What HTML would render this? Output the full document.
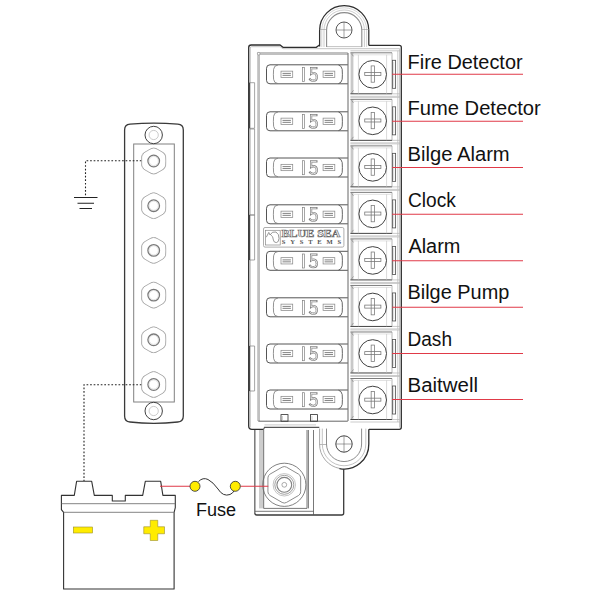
<!DOCTYPE html>
<html><head><meta charset="utf-8"><style>
html,body{margin:0;padding:0;background:#fff;width:600px;height:600px;overflow:hidden;font-family:"Liberation Sans",sans-serif;}
svg{display:block;}
</style></head><body>
<svg width="600" height="600" viewBox="0 0 600 600"><path d="M319.6 46.5 V30.2 A24.6 24.6 0 0 1 368.8 30.2 V45.5" fill="none" stroke="#2e2e2e" stroke-width="1.25" /><path d="M321.8 47 V30.2 A22.4 22.4 0 0 1 366.6 30.2 V47" fill="none" stroke="#c4c4c4" stroke-width="0.7" /><path d="M324 47 V30.2 A20.2 20.2 0 0 1 364.4 30.2 V47" fill="none" stroke="#b8b8b8" stroke-width="0.7" /><path d="M326.6 47 V30.2 A17.6 17.6 0 0 1 361.8 30.2 V47" fill="none" stroke="#8a8a8a" stroke-width="1.1" /><path d="M319.6 29.5 H326.6 M361.8 29.5 H368.8 M326.6 46.6 H361.8" fill="none" stroke="#999" stroke-width="0.6" /><circle cx="344" cy="30" r="8" fill="none" stroke="#3a3a3a" stroke-width="0.85"/><path d="M344 22 V38 M336 30 H352" fill="none" stroke="#555" stroke-width="0.55" /><path d="M248.7 426 V47.5 Q248.7 45 251.2 45 H280 L283 47.3 H316.3 L319.8 44.8 M368.9 45.3 H399.3 Q401.3 45.3 401.3 47.3 V427.3 Q401.3 429.3 399.3 429.3 H368.9 M263.7 429.3 H252 Q248.7 429.3 248.7 426" fill="none" stroke="#2e2e2e" stroke-width="1.3" /><path d="M263.7 429.3 L264.5 427.4 H319.3" fill="none" stroke="#555555" stroke-width="1.1" /><path d="M264.5 424.9 H316" fill="none" stroke="#b4b4b4" stroke-width="0.7" /><path d="M250.3 427.5 V48 Q250.3 46.7 251.6 46.7 H280 L283 48.7 H399.6 V427.5" fill="none" stroke="#b4b4b4" stroke-width="0.8" /><path d="M258.6 421 V53.5 H347.8" fill="none" stroke="#c0c0c0" stroke-width="2.8" /><circle cx="258.7" cy="53.7" r="1.3" fill="#fff" stroke="#808080" stroke-width="0.6"/><path d="M258.3 421.2 H347.8" fill="none" stroke="#555555" stroke-width="0.9" /><path d="M348 53 V421" fill="none" stroke="#555555" stroke-width="0.9" /><path d="M249.5 82.7 H254.6 V128.3 H249.5" fill="none" stroke="#808080" stroke-width="0.7" /><rect x="248.6" y="82.7" width="1.4" height="45.6" fill="#444"/><path d="M249.5 129 H254.6 V215 H249.5" fill="none" stroke="#808080" stroke-width="0.7" /><path d="M249.5 215 H254.6 V260 H249.5" fill="none" stroke="#808080" stroke-width="0.7" /><rect x="248.6" y="215" width="1.4" height="45.0" fill="#444"/><path d="M249.5 346 H254.6 V391 H249.5" fill="none" stroke="#808080" stroke-width="0.7" /><rect x="248.6" y="346" width="1.4" height="45.0" fill="#444"/><rect x="281" y="414.6" width="7" height="6.6" fill="none" stroke="#2e2e2e" stroke-width="0.8"/><path d="M282.5 416 V421" fill="none" stroke="#b4b4b4" stroke-width="0.6" /><rect x="310.5" y="414.6" width="7" height="6.6" fill="none" stroke="#2e2e2e" stroke-width="0.8"/><path d="M312.0 416 V421" fill="none" stroke="#b4b4b4" stroke-width="0.6" /><path d="M347.8 64.8 H270 Q266.5 64.8 266.5 68.3 V80.3 Q266.5 83.8 270 83.8 H347.8" fill="none" stroke="#555555" stroke-width="1"/><path d="M278 65.0 Q274 65.3 273.6 69.3 Q273.2 74.3 273.6 79.3 Q274 83.3 278 83.6" fill="none" stroke="#808080" stroke-width="0.85"/><path d="M338.5 65.0 Q341.5 65.6 342.2 69.3 Q342.6 74.3 342.2 79.3 Q341.5 83.0 338.5 83.6" fill="none" stroke="#555555" stroke-width="0.9"/><rect x="281.0" y="71.15" width="11.7" height="6.3" fill="none" stroke="#8a8a8a" stroke-width="0.75"/><path d="M282.5 73.40 H290.90000000000003 M282.5 75.35 H290.90000000000003" stroke="#5a5a5a" stroke-width="0.75"/><rect x="323.09999999999997" y="71.15" width="11.7" height="6.3" fill="none" stroke="#8a8a8a" stroke-width="0.75"/><path d="M324.59999999999997 73.40 H333.0 M324.59999999999997 75.35 H333.0" stroke="#5a5a5a" stroke-width="0.75"/><rect x="302.4" y="67.5" width="2.2" height="14" fill="none" stroke="#808080" stroke-width="0.7"/><path d="M316.4 68.2 H311.1 V73.89999999999999 Q312.5 73.0 313.8 73.0 Q316.8 73.2 316.8 76.89999999999999 Q316.8 80.7 313.5 80.7 Q311.3 80.7 310.1 79.39999999999999" fill="none" stroke="#808080" stroke-width="2.2" stroke-linecap="square"/><path d="M316.4 68.2 H311.1 V73.89999999999999 Q312.5 73.0 313.8 73.0 Q316.8 73.2 316.8 76.89999999999999 Q316.8 80.7 313.5 80.7 Q311.3 80.7 310.1 79.39999999999999" fill="none" stroke="#fff" stroke-width="0.8"/><path d="M347.8 111.8 H270 Q266.5 111.8 266.5 115.3 V127.30000000000001 Q266.5 130.8 270 130.8 H347.8" fill="none" stroke="#555555" stroke-width="1"/><path d="M278 112.0 Q274 112.3 273.6 116.3 Q273.2 121.3 273.6 126.30000000000001 Q274 130.3 278 130.60000000000002" fill="none" stroke="#808080" stroke-width="0.85"/><path d="M338.5 112.0 Q341.5 112.6 342.2 116.3 Q342.6 121.3 342.2 126.30000000000001 Q341.5 130.0 338.5 130.60000000000002" fill="none" stroke="#555555" stroke-width="0.9"/><rect x="281.0" y="118.15" width="11.7" height="6.3" fill="none" stroke="#8a8a8a" stroke-width="0.75"/><path d="M282.5 120.40 H290.90000000000003 M282.5 122.35 H290.90000000000003" stroke="#5a5a5a" stroke-width="0.75"/><rect x="323.09999999999997" y="118.15" width="11.7" height="6.3" fill="none" stroke="#8a8a8a" stroke-width="0.75"/><path d="M324.59999999999997 120.40 H333.0 M324.59999999999997 122.35 H333.0" stroke="#5a5a5a" stroke-width="0.75"/><rect x="302.4" y="114.5" width="2.2" height="14" fill="none" stroke="#808080" stroke-width="0.7"/><path d="M316.4 115.2 H311.1 V120.89999999999999 Q312.5 120.0 313.8 120.0 Q316.8 120.2 316.8 123.89999999999999 Q316.8 127.7 313.5 127.7 Q311.3 127.7 310.1 126.39999999999999" fill="none" stroke="#808080" stroke-width="2.2" stroke-linecap="square"/><path d="M316.4 115.2 H311.1 V120.89999999999999 Q312.5 120.0 313.8 120.0 Q316.8 120.2 316.8 123.89999999999999 Q316.8 127.7 313.5 127.7 Q311.3 127.7 310.1 126.39999999999999" fill="none" stroke="#fff" stroke-width="0.8"/><path d="M347.8 158.0 H270 Q266.5 158.0 266.5 161.5 V173.5 Q266.5 177.0 270 177.0 H347.8" fill="none" stroke="#555555" stroke-width="1"/><path d="M278 158.2 Q274 158.5 273.6 162.5 Q273.2 167.5 273.6 172.5 Q274 176.5 278 176.8" fill="none" stroke="#808080" stroke-width="0.85"/><path d="M338.5 158.2 Q341.5 158.8 342.2 162.5 Q342.6 167.5 342.2 172.5 Q341.5 176.2 338.5 176.8" fill="none" stroke="#555555" stroke-width="0.9"/><rect x="281.0" y="164.35" width="11.7" height="6.3" fill="none" stroke="#8a8a8a" stroke-width="0.75"/><path d="M282.5 166.60 H290.90000000000003 M282.5 168.55 H290.90000000000003" stroke="#5a5a5a" stroke-width="0.75"/><rect x="323.09999999999997" y="164.35" width="11.7" height="6.3" fill="none" stroke="#8a8a8a" stroke-width="0.75"/><path d="M324.59999999999997 166.60 H333.0 M324.59999999999997 168.55 H333.0" stroke="#5a5a5a" stroke-width="0.75"/><rect x="302.4" y="160.7" width="2.2" height="14" fill="none" stroke="#808080" stroke-width="0.7"/><path d="M316.4 161.4 H311.1 V167.1 Q312.5 166.2 313.8 166.2 Q316.8 166.4 316.8 170.1 Q316.8 173.9 313.5 173.9 Q311.3 173.9 310.1 172.6" fill="none" stroke="#808080" stroke-width="2.2" stroke-linecap="square"/><path d="M316.4 161.4 H311.1 V167.1 Q312.5 166.2 313.8 166.2 Q316.8 166.4 316.8 170.1 Q316.8 173.9 313.5 173.9 Q311.3 173.9 310.1 172.6" fill="none" stroke="#fff" stroke-width="0.8"/><path d="M347.8 204.8 H270 Q266.5 204.8 266.5 208.3 V220.3 Q266.5 223.8 270 223.8 H347.8" fill="none" stroke="#555555" stroke-width="1"/><path d="M278 205.0 Q274 205.3 273.6 209.3 Q273.2 214.3 273.6 219.3 Q274 223.3 278 223.60000000000002" fill="none" stroke="#808080" stroke-width="0.85"/><path d="M338.5 205.0 Q341.5 205.60000000000002 342.2 209.3 Q342.6 214.3 342.2 219.3 Q341.5 223.0 338.5 223.60000000000002" fill="none" stroke="#555555" stroke-width="0.9"/><rect x="281.0" y="211.15" width="11.7" height="6.3" fill="none" stroke="#8a8a8a" stroke-width="0.75"/><path d="M282.5 213.40 H290.90000000000003 M282.5 215.35 H290.90000000000003" stroke="#5a5a5a" stroke-width="0.75"/><rect x="323.09999999999997" y="211.15" width="11.7" height="6.3" fill="none" stroke="#8a8a8a" stroke-width="0.75"/><path d="M324.59999999999997 213.40 H333.0 M324.59999999999997 215.35 H333.0" stroke="#5a5a5a" stroke-width="0.75"/><rect x="302.4" y="207.5" width="2.2" height="14" fill="none" stroke="#808080" stroke-width="0.7"/><path d="M316.4 208.20000000000002 H311.1 V213.9 Q312.5 213.0 313.8 213.0 Q316.8 213.20000000000002 316.8 216.9 Q316.8 220.70000000000002 313.5 220.70000000000002 Q311.3 220.70000000000002 310.1 219.4" fill="none" stroke="#808080" stroke-width="2.2" stroke-linecap="square"/><path d="M316.4 208.20000000000002 H311.1 V213.9 Q312.5 213.0 313.8 213.0 Q316.8 213.20000000000002 316.8 216.9 Q316.8 220.70000000000002 313.5 220.70000000000002 Q311.3 220.70000000000002 310.1 219.4" fill="none" stroke="#fff" stroke-width="0.8"/><path d="M347.8 251.3 H270 Q266.5 251.3 266.5 254.8 V266.8 Q266.5 270.3 270 270.3 H347.8" fill="none" stroke="#555555" stroke-width="1"/><path d="M278 251.5 Q274 251.8 273.6 255.8 Q273.2 260.8 273.6 265.8 Q274 269.8 278 270.1" fill="none" stroke="#808080" stroke-width="0.85"/><path d="M338.5 251.5 Q341.5 252.10000000000002 342.2 255.8 Q342.6 260.8 342.2 265.8 Q341.5 269.5 338.5 270.1" fill="none" stroke="#555555" stroke-width="0.9"/><rect x="281.0" y="257.65" width="11.7" height="6.3" fill="none" stroke="#8a8a8a" stroke-width="0.75"/><path d="M282.5 259.90 H290.90000000000003 M282.5 261.85 H290.90000000000003" stroke="#5a5a5a" stroke-width="0.75"/><rect x="323.09999999999997" y="257.65" width="11.7" height="6.3" fill="none" stroke="#8a8a8a" stroke-width="0.75"/><path d="M324.59999999999997 259.90 H333.0 M324.59999999999997 261.85 H333.0" stroke="#5a5a5a" stroke-width="0.75"/><rect x="302.4" y="254.0" width="2.2" height="14" fill="none" stroke="#808080" stroke-width="0.7"/><path d="M316.4 254.70000000000002 H311.1 V260.40000000000003 Q312.5 259.5 313.8 259.5 Q316.8 259.7 316.8 263.40000000000003 Q316.8 267.2 313.5 267.2 Q311.3 267.2 310.1 265.90000000000003" fill="none" stroke="#808080" stroke-width="2.2" stroke-linecap="square"/><path d="M316.4 254.70000000000002 H311.1 V260.40000000000003 Q312.5 259.5 313.8 259.5 Q316.8 259.7 316.8 263.40000000000003 Q316.8 267.2 313.5 267.2 Q311.3 267.2 310.1 265.90000000000003" fill="none" stroke="#fff" stroke-width="0.8"/><path d="M347.8 297.8 H270 Q266.5 297.8 266.5 301.3 V313.3 Q266.5 316.8 270 316.8 H347.8" fill="none" stroke="#555555" stroke-width="1"/><path d="M278 298.0 Q274 298.3 273.6 302.3 Q273.2 307.3 273.6 312.3 Q274 316.3 278 316.6" fill="none" stroke="#808080" stroke-width="0.85"/><path d="M338.5 298.0 Q341.5 298.6 342.2 302.3 Q342.6 307.3 342.2 312.3 Q341.5 316.0 338.5 316.6" fill="none" stroke="#555555" stroke-width="0.9"/><rect x="281.0" y="304.15" width="11.7" height="6.3" fill="none" stroke="#8a8a8a" stroke-width="0.75"/><path d="M282.5 306.40 H290.90000000000003 M282.5 308.35 H290.90000000000003" stroke="#5a5a5a" stroke-width="0.75"/><rect x="323.09999999999997" y="304.15" width="11.7" height="6.3" fill="none" stroke="#8a8a8a" stroke-width="0.75"/><path d="M324.59999999999997 306.40 H333.0 M324.59999999999997 308.35 H333.0" stroke="#5a5a5a" stroke-width="0.75"/><rect x="302.4" y="300.5" width="2.2" height="14" fill="none" stroke="#808080" stroke-width="0.7"/><path d="M316.4 301.2 H311.1 V306.90000000000003 Q312.5 306.0 313.8 306.0 Q316.8 306.2 316.8 309.90000000000003 Q316.8 313.7 313.5 313.7 Q311.3 313.7 310.1 312.40000000000003" fill="none" stroke="#808080" stroke-width="2.2" stroke-linecap="square"/><path d="M316.4 301.2 H311.1 V306.90000000000003 Q312.5 306.0 313.8 306.0 Q316.8 306.2 316.8 309.90000000000003 Q316.8 313.7 313.5 313.7 Q311.3 313.7 310.1 312.40000000000003" fill="none" stroke="#fff" stroke-width="0.8"/><path d="M347.8 344.0 H270 Q266.5 344.0 266.5 347.5 V359.5 Q266.5 363.0 270 363.0 H347.8" fill="none" stroke="#555555" stroke-width="1"/><path d="M278 344.2 Q274 344.5 273.6 348.5 Q273.2 353.5 273.6 358.5 Q274 362.5 278 362.8" fill="none" stroke="#808080" stroke-width="0.85"/><path d="M338.5 344.2 Q341.5 344.8 342.2 348.5 Q342.6 353.5 342.2 358.5 Q341.5 362.2 338.5 362.8" fill="none" stroke="#555555" stroke-width="0.9"/><rect x="281.0" y="350.35" width="11.7" height="6.3" fill="none" stroke="#8a8a8a" stroke-width="0.75"/><path d="M282.5 352.60 H290.90000000000003 M282.5 354.55 H290.90000000000003" stroke="#5a5a5a" stroke-width="0.75"/><rect x="323.09999999999997" y="350.35" width="11.7" height="6.3" fill="none" stroke="#8a8a8a" stroke-width="0.75"/><path d="M324.59999999999997 352.60 H333.0 M324.59999999999997 354.55 H333.0" stroke="#5a5a5a" stroke-width="0.75"/><rect x="302.4" y="346.7" width="2.2" height="14" fill="none" stroke="#808080" stroke-width="0.7"/><path d="M316.4 347.4 H311.1 V353.1 Q312.5 352.2 313.8 352.2 Q316.8 352.4 316.8 356.1 Q316.8 359.9 313.5 359.9 Q311.3 359.9 310.1 358.6" fill="none" stroke="#808080" stroke-width="2.2" stroke-linecap="square"/><path d="M316.4 347.4 H311.1 V353.1 Q312.5 352.2 313.8 352.2 Q316.8 352.4 316.8 356.1 Q316.8 359.9 313.5 359.9 Q311.3 359.9 310.1 358.6" fill="none" stroke="#fff" stroke-width="0.8"/><path d="M347.8 390.0 H270 Q266.5 390.0 266.5 393.5 V405.5 Q266.5 409.0 270 409.0 H347.8" fill="none" stroke="#555555" stroke-width="1"/><path d="M278 390.2 Q274 390.5 273.6 394.5 Q273.2 399.5 273.6 404.5 Q274 408.5 278 408.8" fill="none" stroke="#808080" stroke-width="0.85"/><path d="M338.5 390.2 Q341.5 390.8 342.2 394.5 Q342.6 399.5 342.2 404.5 Q341.5 408.2 338.5 408.8" fill="none" stroke="#555555" stroke-width="0.9"/><rect x="281.0" y="396.35" width="11.7" height="6.3" fill="none" stroke="#8a8a8a" stroke-width="0.75"/><path d="M282.5 398.60 H290.90000000000003 M282.5 400.55 H290.90000000000003" stroke="#5a5a5a" stroke-width="0.75"/><rect x="323.09999999999997" y="396.35" width="11.7" height="6.3" fill="none" stroke="#8a8a8a" stroke-width="0.75"/><path d="M324.59999999999997 398.60 H333.0 M324.59999999999997 400.55 H333.0" stroke="#5a5a5a" stroke-width="0.75"/><rect x="302.4" y="392.7" width="2.2" height="14" fill="none" stroke="#808080" stroke-width="0.7"/><path d="M316.4 393.4 H311.1 V399.1 Q312.5 398.2 313.8 398.2 Q316.8 398.4 316.8 402.1 Q316.8 405.9 313.5 405.9 Q311.3 405.9 310.1 404.6" fill="none" stroke="#808080" stroke-width="2.2" stroke-linecap="square"/><path d="M316.4 393.4 H311.1 V399.1 Q312.5 398.2 313.8 398.2 Q316.8 398.4 316.8 402.1 Q316.8 405.9 313.5 405.9 Q311.3 405.9 310.1 404.6" fill="none" stroke="#fff" stroke-width="0.8"/><rect x="263.5" y="227.5" width="80.4" height="19.6" rx="1.5" fill="#fff" stroke="#999" stroke-width="0.8"/><rect x="265.5" y="230.3" width="14.7" height="14.7" fill="none" stroke="#888" stroke-width="0.7"/><path d="M266.3 237.2 L268.8 232.4 L270 235 Q272 231 276 232 Q279.3 234 279 238.5 Q278.7 242.5 276.3 242.6 Q273.8 242.6 273.4 240 Q273.2 236 270.6 234.8" fill="none" stroke="#777" stroke-width="0.75" /><text x="281.6" y="237.4" font-family="Liberation Serif" font-weight="bold" font-size="9.6" textLength="58.8" lengthAdjust="spacingAndGlyphs" fill="#fff" stroke="#6a6a6a" stroke-width="0.6">BLUE SEA</text><text x="281.8" y="244.3" font-family="Liberation Serif" font-weight="bold" font-size="6.6" textLength="59.3" lengthAdjust="spacing" fill="#555">SYSTEMS</text><rect x="350.6" y="52.8" width="2.8" height="41.0" fill="#c8c8c8"/><path d="M350.4 50.8 H400.5" stroke="#b4b4b4" stroke-width="0.7"/><path d="M350.4 52.8 H392" stroke="#666" stroke-width="0.85"/><path d="M353.5 54.8 H391" stroke="#cfcfcf" stroke-width="0.6"/><path d="M350.4 93.8 H392" stroke="#3a3a3a" stroke-width="0.95"/><path d="M392 93.8 H400.5 M350.4 96.3 H400.5" stroke="#b4b4b4" stroke-width="0.7"/><path d="M358.4 54.8 V93.8 M386.6 54.8 V93.8" stroke="#c0c0c0" stroke-width="0.6"/><path d="M392 52.8 V93.8" stroke="#999" stroke-width="0.7"/><path d="M397.8 50.8 V96.3" stroke="#b4b4b4" stroke-width="0.7"/><path d="M353.5 56.3 L351.5 53.8 M353.5 90.3 L351.5 92.8" stroke="#777" stroke-width="0.6"/><circle cx="372.7" cy="74.3" r="13.8" fill="#fff" stroke="#383838" stroke-width="0.95"/><rect x="364.75" y="72.45" width="16.15" height="3" fill="none" stroke="#707070" stroke-width="0.75"/><rect x="371.15" y="65.90" width="3.3" height="16.3" fill="none" stroke="#777" stroke-width="0.75"/><rect x="392.4" y="60.3" width="3.2" height="28" fill="#fff" stroke="#555" stroke-width="0.85"/><path d="M393.7 61.8 V86.8" stroke="#b4b4b4" stroke-width="0.5"/><rect x="350.6" y="99.33" width="2.8" height="40.999999999999986" fill="#c8c8c8"/><path d="M350.4 97.33 H400.5" stroke="#b4b4b4" stroke-width="0.7"/><path d="M350.4 99.33 H392" stroke="#666" stroke-width="0.85"/><path d="M353.5 101.33 H391" stroke="#cfcfcf" stroke-width="0.6"/><path d="M350.4 140.32999999999998 H392" stroke="#3a3a3a" stroke-width="0.95"/><path d="M392 140.32999999999998 H400.5 M350.4 142.82999999999998 H400.5" stroke="#b4b4b4" stroke-width="0.7"/><path d="M358.4 101.33 V140.32999999999998 M386.6 101.33 V140.32999999999998" stroke="#c0c0c0" stroke-width="0.6"/><path d="M392 99.33 V140.32999999999998" stroke="#999" stroke-width="0.7"/><path d="M397.8 97.33 V142.82999999999998" stroke="#b4b4b4" stroke-width="0.7"/><path d="M353.5 102.83 L351.5 100.33 M353.5 136.82999999999998 L351.5 139.32999999999998" stroke="#777" stroke-width="0.6"/><circle cx="372.7" cy="120.83" r="13.8" fill="#fff" stroke="#383838" stroke-width="0.95"/><rect x="364.75" y="118.98" width="16.15" height="3" fill="none" stroke="#707070" stroke-width="0.75"/><rect x="371.15" y="112.43" width="3.3" height="16.3" fill="none" stroke="#777" stroke-width="0.75"/><rect x="392.4" y="106.83" width="3.2" height="28" fill="#fff" stroke="#555" stroke-width="0.85"/><path d="M393.7 108.33 V133.32999999999998" stroke="#b4b4b4" stroke-width="0.5"/><rect x="350.6" y="145.86" width="2.8" height="41.0" fill="#c8c8c8"/><path d="M350.4 143.86 H400.5" stroke="#b4b4b4" stroke-width="0.7"/><path d="M350.4 145.86 H392" stroke="#666" stroke-width="0.85"/><path d="M353.5 147.86 H391" stroke="#cfcfcf" stroke-width="0.6"/><path d="M350.4 186.86 H392" stroke="#3a3a3a" stroke-width="0.95"/><path d="M392 186.86 H400.5 M350.4 189.36 H400.5" stroke="#b4b4b4" stroke-width="0.7"/><path d="M358.4 147.86 V186.86 M386.6 147.86 V186.86" stroke="#c0c0c0" stroke-width="0.6"/><path d="M392 145.86 V186.86" stroke="#999" stroke-width="0.7"/><path d="M397.8 143.86 V189.36" stroke="#b4b4b4" stroke-width="0.7"/><path d="M353.5 149.36 L351.5 146.86 M353.5 183.36 L351.5 185.86" stroke="#777" stroke-width="0.6"/><circle cx="372.7" cy="167.36" r="13.8" fill="#fff" stroke="#383838" stroke-width="0.95"/><rect x="364.75" y="165.51" width="16.15" height="3" fill="none" stroke="#707070" stroke-width="0.75"/><rect x="371.15" y="158.96" width="3.3" height="16.3" fill="none" stroke="#777" stroke-width="0.75"/><rect x="392.4" y="153.36" width="3.2" height="28" fill="#fff" stroke="#555" stroke-width="0.85"/><path d="M393.7 154.86 V179.86" stroke="#b4b4b4" stroke-width="0.5"/><rect x="350.6" y="192.39" width="2.8" height="41.0" fill="#c8c8c8"/><path d="M350.4 190.39 H400.5" stroke="#b4b4b4" stroke-width="0.7"/><path d="M350.4 192.39 H392" stroke="#666" stroke-width="0.85"/><path d="M353.5 194.39 H391" stroke="#cfcfcf" stroke-width="0.6"/><path d="M350.4 233.39 H392" stroke="#3a3a3a" stroke-width="0.95"/><path d="M392 233.39 H400.5 M350.4 235.89 H400.5" stroke="#b4b4b4" stroke-width="0.7"/><path d="M358.4 194.39 V233.39 M386.6 194.39 V233.39" stroke="#c0c0c0" stroke-width="0.6"/><path d="M392 192.39 V233.39" stroke="#999" stroke-width="0.7"/><path d="M397.8 190.39 V235.89" stroke="#b4b4b4" stroke-width="0.7"/><path d="M353.5 195.89 L351.5 193.39 M353.5 229.89 L351.5 232.39" stroke="#777" stroke-width="0.6"/><circle cx="372.7" cy="213.89" r="13.8" fill="#fff" stroke="#383838" stroke-width="0.95"/><rect x="364.75" y="212.04" width="16.15" height="3" fill="none" stroke="#707070" stroke-width="0.75"/><rect x="371.15" y="205.49" width="3.3" height="16.3" fill="none" stroke="#777" stroke-width="0.75"/><rect x="392.4" y="199.89" width="3.2" height="28" fill="#fff" stroke="#555" stroke-width="0.85"/><path d="M393.7 201.39 V226.39" stroke="#b4b4b4" stroke-width="0.5"/><rect x="350.6" y="238.92000000000002" width="2.8" height="41.0" fill="#c8c8c8"/><path d="M350.4 236.92000000000002 H400.5" stroke="#b4b4b4" stroke-width="0.7"/><path d="M350.4 238.92000000000002 H392" stroke="#666" stroke-width="0.85"/><path d="M353.5 240.92000000000002 H391" stroke="#cfcfcf" stroke-width="0.6"/><path d="M350.4 279.92 H392" stroke="#3a3a3a" stroke-width="0.95"/><path d="M392 279.92 H400.5 M350.4 282.42 H400.5" stroke="#b4b4b4" stroke-width="0.7"/><path d="M358.4 240.92000000000002 V279.92 M386.6 240.92000000000002 V279.92" stroke="#c0c0c0" stroke-width="0.6"/><path d="M392 238.92000000000002 V279.92" stroke="#999" stroke-width="0.7"/><path d="M397.8 236.92000000000002 V282.42" stroke="#b4b4b4" stroke-width="0.7"/><path d="M353.5 242.42000000000002 L351.5 239.92000000000002 M353.5 276.42 L351.5 278.92" stroke="#777" stroke-width="0.6"/><circle cx="372.7" cy="260.42" r="13.8" fill="#fff" stroke="#383838" stroke-width="0.95"/><rect x="364.75" y="258.57" width="16.15" height="3" fill="none" stroke="#707070" stroke-width="0.75"/><rect x="371.15" y="252.02" width="3.3" height="16.3" fill="none" stroke="#777" stroke-width="0.75"/><rect x="392.4" y="246.42000000000002" width="3.2" height="28" fill="#fff" stroke="#555" stroke-width="0.85"/><path d="M393.7 247.92000000000002 V272.92" stroke="#b4b4b4" stroke-width="0.5"/><rect x="350.6" y="285.45" width="2.8" height="41.0" fill="#c8c8c8"/><path d="M350.4 283.45 H400.5" stroke="#b4b4b4" stroke-width="0.7"/><path d="M350.4 285.45 H392" stroke="#666" stroke-width="0.85"/><path d="M353.5 287.45 H391" stroke="#cfcfcf" stroke-width="0.6"/><path d="M350.4 326.45 H392" stroke="#3a3a3a" stroke-width="0.95"/><path d="M392 326.45 H400.5 M350.4 328.95 H400.5" stroke="#b4b4b4" stroke-width="0.7"/><path d="M358.4 287.45 V326.45 M386.6 287.45 V326.45" stroke="#c0c0c0" stroke-width="0.6"/><path d="M392 285.45 V326.45" stroke="#999" stroke-width="0.7"/><path d="M397.8 283.45 V328.95" stroke="#b4b4b4" stroke-width="0.7"/><path d="M353.5 288.95 L351.5 286.45 M353.5 322.95 L351.5 325.45" stroke="#777" stroke-width="0.6"/><circle cx="372.7" cy="306.95" r="13.8" fill="#fff" stroke="#383838" stroke-width="0.95"/><rect x="364.75" y="305.10" width="16.15" height="3" fill="none" stroke="#707070" stroke-width="0.75"/><rect x="371.15" y="298.55" width="3.3" height="16.3" fill="none" stroke="#777" stroke-width="0.75"/><rect x="392.4" y="292.95" width="3.2" height="28" fill="#fff" stroke="#555" stroke-width="0.85"/><path d="M393.7 294.45 V319.45" stroke="#b4b4b4" stroke-width="0.5"/><rect x="350.6" y="331.98" width="2.8" height="41.0" fill="#c8c8c8"/><path d="M350.4 329.98 H400.5" stroke="#b4b4b4" stroke-width="0.7"/><path d="M350.4 331.98 H392" stroke="#666" stroke-width="0.85"/><path d="M353.5 333.98 H391" stroke="#cfcfcf" stroke-width="0.6"/><path d="M350.4 372.98 H392" stroke="#3a3a3a" stroke-width="0.95"/><path d="M392 372.98 H400.5 M350.4 375.48 H400.5" stroke="#b4b4b4" stroke-width="0.7"/><path d="M358.4 333.98 V372.98 M386.6 333.98 V372.98" stroke="#c0c0c0" stroke-width="0.6"/><path d="M392 331.98 V372.98" stroke="#999" stroke-width="0.7"/><path d="M397.8 329.98 V375.48" stroke="#b4b4b4" stroke-width="0.7"/><path d="M353.5 335.48 L351.5 332.98 M353.5 369.48 L351.5 371.98" stroke="#777" stroke-width="0.6"/><circle cx="372.7" cy="353.48" r="13.8" fill="#fff" stroke="#383838" stroke-width="0.95"/><rect x="364.75" y="351.63" width="16.15" height="3" fill="none" stroke="#707070" stroke-width="0.75"/><rect x="371.15" y="345.08" width="3.3" height="16.3" fill="none" stroke="#777" stroke-width="0.75"/><rect x="392.4" y="339.48" width="3.2" height="28" fill="#fff" stroke="#555" stroke-width="0.85"/><path d="M393.7 340.98 V365.98" stroke="#b4b4b4" stroke-width="0.5"/><rect x="350.6" y="378.51000000000005" width="2.8" height="41.0" fill="#c8c8c8"/><path d="M350.4 376.51000000000005 H400.5" stroke="#b4b4b4" stroke-width="0.7"/><path d="M350.4 378.51000000000005 H392" stroke="#666" stroke-width="0.85"/><path d="M353.5 380.51000000000005 H391" stroke="#cfcfcf" stroke-width="0.6"/><path d="M350.4 419.51000000000005 H392" stroke="#3a3a3a" stroke-width="0.95"/><path d="M392 419.51000000000005 H400.5 M350.4 422.01000000000005 H400.5" stroke="#b4b4b4" stroke-width="0.7"/><path d="M358.4 380.51000000000005 V419.51000000000005 M386.6 380.51000000000005 V419.51000000000005" stroke="#c0c0c0" stroke-width="0.6"/><path d="M392 378.51000000000005 V419.51000000000005" stroke="#999" stroke-width="0.7"/><path d="M397.8 376.51000000000005 V422.01000000000005" stroke="#b4b4b4" stroke-width="0.7"/><path d="M353.5 382.01000000000005 L351.5 379.51000000000005 M353.5 416.01000000000005 L351.5 418.51000000000005" stroke="#777" stroke-width="0.6"/><circle cx="372.7" cy="400.01000000000005" r="13.8" fill="#fff" stroke="#383838" stroke-width="0.95"/><rect x="364.75" y="398.16" width="16.15" height="3" fill="none" stroke="#707070" stroke-width="0.75"/><rect x="371.15" y="391.61" width="3.3" height="16.3" fill="none" stroke="#777" stroke-width="0.75"/><rect x="392.4" y="386.01000000000005" width="3.2" height="28" fill="#fff" stroke="#555" stroke-width="0.85"/><path d="M393.7 387.51000000000005 V412.51000000000005" stroke="#b4b4b4" stroke-width="0.5"/><path d="M319.6 428.5 V444 A24.6 24.6 0 0 0 340 468.5" fill="none" stroke="#a8a8a8" stroke-width="1.0" /><path d="M368.8 429.3 V444 A24.6 24.6 0 0 1 339.5 468.6" fill="none" stroke="#2e2e2e" stroke-width="1.3" /><path d="M319.6 444.5 H326.5" fill="none" stroke="#999" stroke-width="0.7" /><path d="M322.3 428.6 V444 A21.75 21.75 0 0 0 365.8 444 V428.6" fill="none" stroke="#b4b4b4" stroke-width="0.8" /><path d="M326.5 428.6 V444 A17.55 17.55 0 0 0 361.6 444 V428.6" fill="none" stroke="#808080" stroke-width="0.9" /><circle cx="344" cy="444" r="8.2" fill="none" stroke="#2e2e2e" stroke-width="0.9"/><path d="M344 436 V452 M336 444 H352" fill="none" stroke="#555" stroke-width="0.55" /><path d="M254.8 430 V513" fill="none" stroke="#777" stroke-width="1.5" /><path d="M254.8 513 Q254.8 515 256.8 515 H341.7 Q343.7 515 343.7 513 V469" fill="none" stroke="#3a3a3a" stroke-width="1.3" /><rect x="259" y="430" width="4.6" height="78.4" fill="#cdcdcd"/><path d="M263.7 430 V508.4 H307 V430 M308.4 430 V508.4 M313.5 430 V515 M255 511.3 H313.5" fill="none" stroke="#555555" stroke-width="0.8" /><circle cx="284.3" cy="484.8" r="21.6" fill="none" stroke="#6a6a6a" stroke-width="0.85"/><path d="M282.13 467.15 Q284.30 465.90 286.47 467.15 L298.50 474.10 Q300.67 475.35 300.67 477.85 L300.67 491.75 Q300.67 494.25 298.50 495.50 L286.47 502.45 Q284.30 503.70 282.13 502.45 L270.10 495.50 Q267.93 494.25 267.93 491.75 L267.93 477.85 Q267.93 475.35 270.10 474.10 Z" fill="none" stroke="#777" stroke-width="0.85" /><circle cx="284.3" cy="484.8" r="11.2" fill="none" stroke="#aaa" stroke-width="0.7"/><circle cx="284.3" cy="484.8" r="9.5" fill="none" stroke="#888" stroke-width="0.8"/><circle cx="284.3" cy="484.8" r="7.4" fill="none" stroke="#808080" stroke-width="1.1"/><circle cx="284.3" cy="484.8" r="2.4" fill="none" stroke="#888" stroke-width="0.7"/><path d="M392 74.3 H523" stroke="#e03a48" stroke-width="1.1"/><text x="407.60" y="68.8" font-family="Liberation Sans" font-size="20" textLength="115.00" lengthAdjust="spacingAndGlyphs" fill="#111">Fire Detector</text><path d="M392 121.3 H523" stroke="#e03a48" stroke-width="1.1"/><text x="407.50" y="114.7" font-family="Liberation Sans" font-size="20" textLength="133.25" lengthAdjust="spacingAndGlyphs" fill="#111">Fume Detector</text><path d="M392 167.5 H523" stroke="#e03a48" stroke-width="1.1"/><text x="407.50" y="160.8" font-family="Liberation Sans" font-size="20" textLength="102.20" lengthAdjust="spacingAndGlyphs" fill="#111">Bilge Alarm</text><path d="M392 214.3 H523" stroke="#e03a48" stroke-width="1.1"/><text x="408.00" y="206.7" font-family="Liberation Sans" font-size="20" textLength="47.80" lengthAdjust="spacingAndGlyphs" fill="#111">Clock</text><path d="M392 260.8 H523" stroke="#e03a48" stroke-width="1.1"/><text x="408.40" y="252.8" font-family="Liberation Sans" font-size="20" textLength="52.00" lengthAdjust="spacingAndGlyphs" fill="#111">Alarm</text><path d="M392 307.3 H523" stroke="#e03a48" stroke-width="1.1"/><text x="407.50" y="299.0" font-family="Liberation Sans" font-size="20" textLength="101.80" lengthAdjust="spacingAndGlyphs" fill="#111">Bilge Pump</text><path d="M392 353.5 H523" stroke="#e03a48" stroke-width="1.1"/><text x="407.50" y="345.8" font-family="Liberation Sans" font-size="20" textLength="44.50" lengthAdjust="spacingAndGlyphs" fill="#111">Dash</text><path d="M392 399.5 H523" stroke="#e03a48" stroke-width="1.1"/><text x="407.50" y="392.2" font-family="Liberation Sans" font-size="20" textLength="70.50" lengthAdjust="spacingAndGlyphs" fill="#111">Baitwell</text><path d="M124.6 416 V130 Q124.6 124.6 130 124.2 Q153.8 122.2 177.8 124.2 Q183.3 124.6 183.3 130 V416 Q183.3 421.6 177.8 422 Q153.8 424.6 130 422 Q124.6 421.6 124.6 416 Z" fill="none" stroke="#3a3a3a" stroke-width="1.3" /><rect x="133.7" y="144" width="40.6" height="258" fill="none" stroke="#808080" stroke-width="1"/><circle cx="153.7" cy="135" r="8.7" fill="#fff" stroke="#2e2e2e" stroke-width="0.9"/><circle cx="153.7" cy="135" r="4.6" fill="none" stroke="#b4b4b4" stroke-width="0.7"/><circle cx="153.7" cy="411" r="8.7" fill="#fff" stroke="#2e2e2e" stroke-width="0.9"/><circle cx="153.7" cy="411" r="4.6" fill="none" stroke="#b4b4b4" stroke-width="0.7"/><path d="M141.5 160.8 H85.5 V196.5" fill="none" stroke="#222" stroke-width="1.1" stroke-dasharray="1.7 1.85"/><path d="M141.5 384.7 H84 V481" fill="none" stroke="#222" stroke-width="1.1" stroke-dasharray="1.7 1.85"/><clipPath id="hc0"><circle cx="153.7" cy="161.0" r="13.3"/></clipPath><clipPath id="hh0"><polygon points="153.70,147.10 165.74,154.05 165.74,167.95 153.70,174.90 141.66,167.95 141.66,154.05"/></clipPath><polygon points="153.70,147.10 165.74,154.05 165.74,167.95 153.70,174.90 141.66,167.95 141.66,154.05" fill="none" stroke="#a0a0a0" stroke-width="0.8" clip-path="url(#hc0)"/><circle cx="153.7" cy="161.0" r="12.9" fill="none" stroke="#a0a0a0" stroke-width="0.8" clip-path="url(#hh0)"/><circle cx="153.7" cy="161.0" r="5.8" fill="none" stroke="#7a7a7a" stroke-width="1.3"/><circle cx="153.7" cy="161.0" r="4.6" fill="none" stroke="#c8c8c8" stroke-width="0.5"/><clipPath id="hc1"><circle cx="153.7" cy="205.7" r="13.3"/></clipPath><clipPath id="hh1"><polygon points="153.70,191.80 165.74,198.75 165.74,212.65 153.70,219.60 141.66,212.65 141.66,198.75"/></clipPath><polygon points="153.70,191.80 165.74,198.75 165.74,212.65 153.70,219.60 141.66,212.65 141.66,198.75" fill="none" stroke="#a0a0a0" stroke-width="0.8" clip-path="url(#hc1)"/><circle cx="153.7" cy="205.7" r="12.9" fill="none" stroke="#a0a0a0" stroke-width="0.8" clip-path="url(#hh1)"/><circle cx="153.7" cy="205.7" r="5.8" fill="none" stroke="#7a7a7a" stroke-width="1.3"/><circle cx="153.7" cy="205.7" r="4.6" fill="none" stroke="#c8c8c8" stroke-width="0.5"/><clipPath id="hc2"><circle cx="153.7" cy="250.4" r="13.3"/></clipPath><clipPath id="hh2"><polygon points="153.70,236.50 165.74,243.45 165.74,257.35 153.70,264.30 141.66,257.35 141.66,243.45"/></clipPath><polygon points="153.70,236.50 165.74,243.45 165.74,257.35 153.70,264.30 141.66,257.35 141.66,243.45" fill="none" stroke="#a0a0a0" stroke-width="0.8" clip-path="url(#hc2)"/><circle cx="153.7" cy="250.4" r="12.9" fill="none" stroke="#a0a0a0" stroke-width="0.8" clip-path="url(#hh2)"/><circle cx="153.7" cy="250.4" r="5.8" fill="none" stroke="#7a7a7a" stroke-width="1.3"/><circle cx="153.7" cy="250.4" r="4.6" fill="none" stroke="#c8c8c8" stroke-width="0.5"/><clipPath id="hc3"><circle cx="153.7" cy="295.1" r="13.3"/></clipPath><clipPath id="hh3"><polygon points="153.70,281.20 165.74,288.15 165.74,302.05 153.70,309.00 141.66,302.05 141.66,288.15"/></clipPath><polygon points="153.70,281.20 165.74,288.15 165.74,302.05 153.70,309.00 141.66,302.05 141.66,288.15" fill="none" stroke="#a0a0a0" stroke-width="0.8" clip-path="url(#hc3)"/><circle cx="153.7" cy="295.1" r="12.9" fill="none" stroke="#a0a0a0" stroke-width="0.8" clip-path="url(#hh3)"/><circle cx="153.7" cy="295.1" r="5.8" fill="none" stroke="#7a7a7a" stroke-width="1.3"/><circle cx="153.7" cy="295.1" r="4.6" fill="none" stroke="#c8c8c8" stroke-width="0.5"/><clipPath id="hc4"><circle cx="153.7" cy="339.8" r="13.3"/></clipPath><clipPath id="hh4"><polygon points="153.70,325.90 165.74,332.85 165.74,346.75 153.70,353.70 141.66,346.75 141.66,332.85"/></clipPath><polygon points="153.70,325.90 165.74,332.85 165.74,346.75 153.70,353.70 141.66,346.75 141.66,332.85" fill="none" stroke="#a0a0a0" stroke-width="0.8" clip-path="url(#hc4)"/><circle cx="153.7" cy="339.8" r="12.9" fill="none" stroke="#a0a0a0" stroke-width="0.8" clip-path="url(#hh4)"/><circle cx="153.7" cy="339.8" r="5.8" fill="none" stroke="#7a7a7a" stroke-width="1.3"/><circle cx="153.7" cy="339.8" r="4.6" fill="none" stroke="#c8c8c8" stroke-width="0.5"/><clipPath id="hc5"><circle cx="153.7" cy="384.5" r="13.3"/></clipPath><clipPath id="hh5"><polygon points="153.70,370.60 165.74,377.55 165.74,391.45 153.70,398.40 141.66,391.45 141.66,377.55"/></clipPath><polygon points="153.70,370.60 165.74,377.55 165.74,391.45 153.70,398.40 141.66,391.45 141.66,377.55" fill="none" stroke="#a0a0a0" stroke-width="0.8" clip-path="url(#hc5)"/><circle cx="153.7" cy="384.5" r="12.9" fill="none" stroke="#a0a0a0" stroke-width="0.8" clip-path="url(#hh5)"/><circle cx="153.7" cy="384.5" r="5.8" fill="none" stroke="#7a7a7a" stroke-width="1.3"/><circle cx="153.7" cy="384.5" r="4.6" fill="none" stroke="#c8c8c8" stroke-width="0.5"/><path d="M74 197.5 H97.5 M77.5 203.2 H94 M79.5 208.5 H92" fill="none" stroke="#222" stroke-width="1.15" /><path d="M63.6 589 V512.3 L61.4 509.7 V495.4 H74.3 L76.6 481.3 H91.7 L94.3 495.4 H112.3 V501 H125.3 V495.4 H142.7 L145.3 481.3 H160.7 L162.9 495.4 H175.3 V507.7 L174.1 512.3 V589 Z" fill="none" stroke="#333" stroke-width="1.1" stroke-linejoin="round"/><path d="M61.6 503.7 H175.2 M63.6 512.3 H174.1" fill="none" stroke="#777" stroke-width="0.9" /><rect x="73.3" y="527" width="19.3" height="6" fill="#ffec00" stroke="#9a8f30" stroke-width="0.6"/><path d="M150.25 520.3 H157.75 V526.75 H164.5 V533.75 H157.75 V540.5 H150.25 V533.75 H143.75 V526.75 H150.25 Z" fill="#ffec00" stroke="#9a8f30" stroke-width="0.6" /><path d="M160 486.3 H190 M240.3 486.3 H268.3" fill="none" stroke="#e03a48" stroke-width="1.1" /><path d="M198.5 481.5 Q203 477 208 479.5 Q213 482 218 489 Q223 497 230 494.5 Q233 493 234 491" fill="none" stroke="#333" stroke-width="1" /><circle cx="195" cy="486.3" r="5" fill="#ffec00" stroke="#333" stroke-width="0.85"/><circle cx="235.3" cy="486.3" r="5" fill="#ffec00" stroke="#333" stroke-width="0.85"/><text x="195.9" y="515.9" font-family="Liberation Sans" font-size="18.8" textLength="40.2" lengthAdjust="spacingAndGlyphs" fill="#111">Fuse</text></svg>
</body></html>
